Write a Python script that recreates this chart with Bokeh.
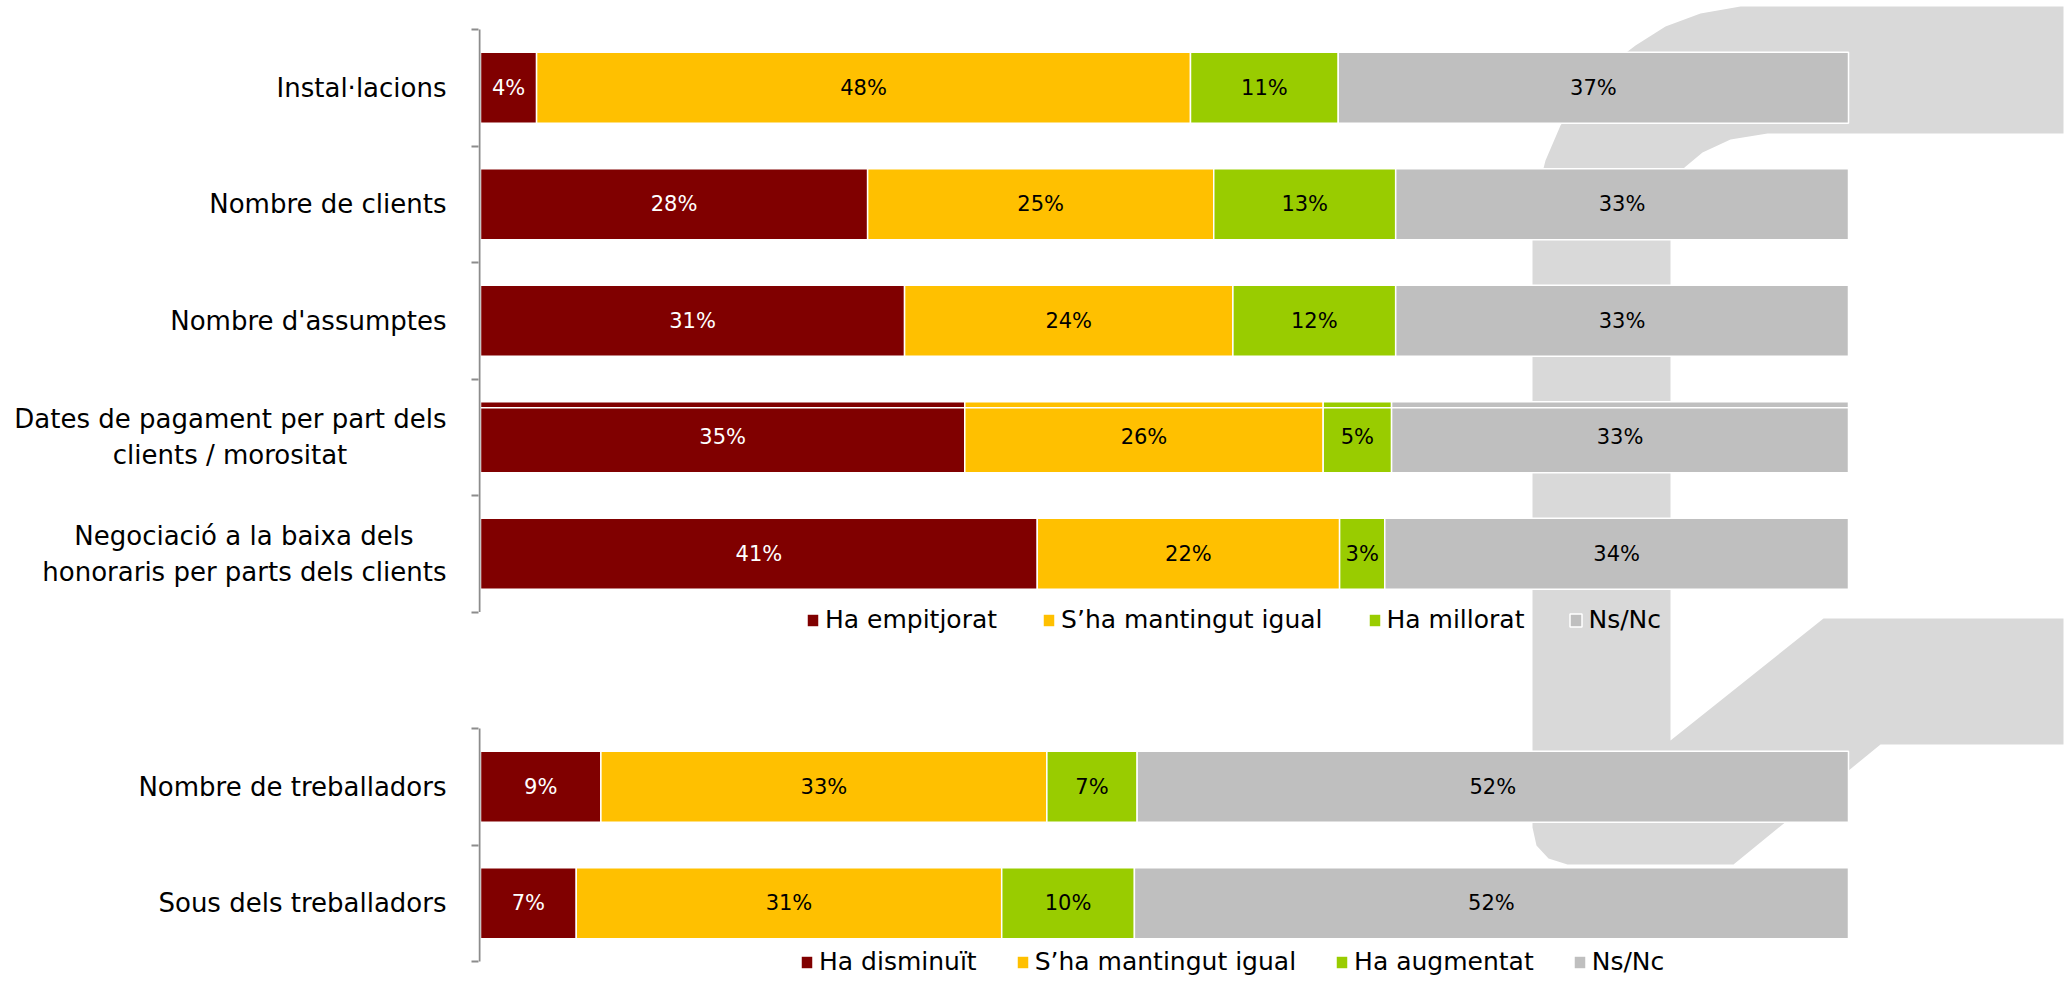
from bokeh.plotting import figure
from bokeh.models import Range1d, FixedTicker, Legend, LegendItem, ColumnDataSource
from bokeh.core.properties import value
from bokeh.embed import file_html
from bokeh.resources import INLINE

NB = "\u00a0"

# ---------------- data ----------------
top_categories = [
    "Instal·lacions",
    "Nombre de clients",
    "Nombre d'assumptes",
    "Dates de pagament per part dels\nclients / morositat" + NB * 12,
    "Negociació a la baixa dels" + NB * 4 + "\nhonoraris per parts dels clients",
]
top_series = ["Ha empitjorat", "S’ha mantingut igual", "Ha millorat", "Ns/Nc"]
top_empitjorat = [4.1, 28.3, 31.0, 35.4, 40.7]
top_igual = [47.8, 25.3, 24.0, 26.2, 22.1]
top_millorat = [10.8, 13.3, 11.9, 5.0, 3.3]
top_nsnc = [37.3, 33.1, 33.1, 33.4, 33.9]

bottom_categories = ["Nombre de treballadors", "Sous dels treballadors"]
bottom_series = ["Ha disminuït", "S’ha mantingut igual", "Ha augmentat", "Ns/Nc"]
bottom_disminuit = [8.8, 7.0]
bottom_igual = [32.6, 31.1]
bottom_augmentat = [6.6, 9.7]
bottom_nsnc = [52.0, 52.2]

# ---------------- style ----------------
COLORS = ["#800000", "#FFC000", "#99CC00", "#BFBFBF"]
TEXT_COLORS = ["#FFFFFF", "#000000", "#000000", "#000000"]
FONT = "DejaVu Sans"
W, H = 2067, 982
PAGE = 0
X0_PX, PX_PER_UNIT = 480.0, 13.68     # page px of 0 %, px per 1 %
Y0_PX, PX_PER_SLOT = 29.0, 116.5       # page px of first slot top, px per category slot
FRAME_LEFT_PX = 478.0

def xd(px):
    return (px - X0_PX) / PX_PER_UNIT

def yd(py):
    return (py - Y0_PX) / PX_PER_SLOT

x_range = Range1d(xd(FRAME_LEFT_PX), xd(PAGE + W))
y_range = Range1d(yd(PAGE + H), yd(PAGE))  # flipped: slots go downwards

p = figure(width=W, height=H, x_range=x_range, y_range=y_range,
           output_backend="svg", toolbar_location=None,
           x_axis_location=None, y_axis_location="left",
           min_border_left=int(FRAME_LEFT_PX - PAGE), min_border_right=0,
           min_border_top=0, min_border_bottom=0)
p.outline_line_color = None
p.xgrid.visible = False
p.ygrid.visible = False
p.background_fill_color = "white"
p.border_fill_color = "white"

# ---------------- watermark (decorative background logo, page px) ----------------
watermark_px = [
    (2063, 6), (1740, 6), (1700, 13), (1665, 26), (1635, 45), (1605, 68),
    (1580, 95), (1560, 125), (1545, 160), (1536, 195), (1532, 230),
    (1532, 827), (1536, 845), (1548, 858), (1567, 864), (1733, 864),
    (1880, 744), (2063, 744), (2063, 618), (1823, 618), (1670, 740),
    (1670, 200), (1673, 182), (1684, 167), (1702, 152), (1730, 139),
    (1767, 133), (2063, 133),
]
p.patch([xd(a) for a, b in watermark_px], [yd(b) for a, b in watermark_px],
        fill_color="#D9D9D9", line_color=None)

# ---------------- bars ----------------
BAR_H = 0.61

def draw_group(categories, series_values, offset):
    ys = [offset + i + 0.5 for i in range(len(categories))]
    left = [0.0] * len(categories)
    renderers = []
    for k, vals in enumerate(series_values):
        right = [l + v for l, v in zip(left, vals)]
        src = ColumnDataSource(dict(
            y=ys, left=left, right=right,
            mid=[(l + r) / 2 for l, r in zip(left, right)],
            label=[f"{v:.0f}%" for v in vals],
        ))
        r = p.hbar(y="y", left="left", right="right", height=BAR_H, source=src,
                   fill_color=COLORS[k], line_color="white", line_width=1.5)
        p.text(x="mid", y="y", text="label", source=src, text_align="center",
               text_baseline="middle", text_font=value(FONT), text_font_size="21px",
               text_color=TEXT_COLORS[k])
        renderers.append(r)
        left = right
    return ys, renderers

top_ys, top_r = draw_group(top_categories,
                           [top_empitjorat, top_igual, top_millorat, top_nsnc], 0)
bot_offset = len(top_categories) + 1
bot_ys, bot_r = draw_group(bottom_categories,
                           [bottom_disminuit, bottom_igual, bottom_augmentat, bottom_nsnc],
                           bot_offset)

# thin white line artefact across the "Dates de pagament" bar
dates_y = top_ys[3] - BAR_H / 2 + 6 / PX_PER_SLOT
p.segment(x0=[0], x1=[100], y0=[dates_y], y1=[dates_y], line_color="white", line_width=1.5)

# axis lines (one per chart)
AX_X = xd(479)
p.segment(x0=[AX_X, AX_X], x1=[AX_X, AX_X],
          y0=[0, bot_offset], y1=[len(top_categories), bot_offset + len(bottom_categories)],
          line_color="#8C8C8C", line_width=2)

# ---------------- y axis ----------------
boundaries = list(range(0, len(top_categories) + 1)) + \
    list(range(bot_offset, bot_offset + len(bottom_categories) + 1))
ax = p.yaxis[0]
ax.ticker = FixedTicker(ticks=top_ys + bot_ys, minor_ticks=boundaries)
ax.major_label_overrides = {y: c for y, c in zip(top_ys + bot_ys, top_categories + bottom_categories)}
ax.axis_line_color = None
ax.major_tick_line_color = None
ax.major_tick_out = 7
ax.major_tick_in = 0
ax.minor_tick_line_color = "#8C8C8C"
ax.minor_tick_line_width = 2
ax.minor_tick_out = 7
ax.minor_tick_in = 0
ax.major_label_standoff = 25
ax.major_label_text_font = FONT
ax.major_label_text_font_size = "26px"
ax.major_label_text_color = "#000000"

# ---------------- legends ----------------
def make_legend(labels, renderers, loc, spacing):
    lg = Legend(items=[LegendItem(label=value(l), renderers=[r]) for l, r in zip(labels, renderers)],
                location=loc, orientation="horizontal",
                glyph_width=15, glyph_height=16, label_standoff=5, spacing=spacing,
                padding=0, margin=0, border_line_color=None, background_fill_alpha=0,
                label_text_font=FONT, label_text_font_size="25px", label_text_color="#000000")
    p.add_layout(lg)

make_legend(top_series, top_r, (327, 348), 44)
make_legend(bottom_series, bot_r, (321, 6), 38)

open("out.html", "w").write(file_html(p, INLINE))
